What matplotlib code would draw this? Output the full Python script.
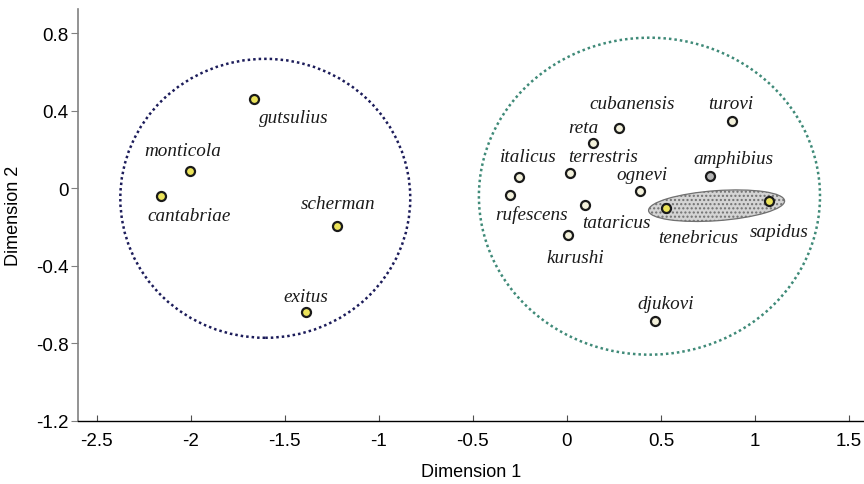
import matplotlib
matplotlib.use('Agg')
import matplotlib.pyplot as plt
from matplotlib.patches import Ellipse

# species coordinates on dimension 1 / dimension 2
names = ['gutsulius', 'monticola', 'cantabriae', 'scherman', 'exitus',
         'cubanensis', 'reta', 'turovi', 'italicus', 'terrestris', 'ognevi',
         'amphibius', 'rufescens', 'tataricus', 'tenebricus', 'sapidus',
         'kurushi', 'djukovi']
dim1 = [-1.665, -2.003, -2.158, -1.222, -1.388,
        0.275, 0.14, 0.876, -0.254, 0.018, 0.387,
        0.761, -0.303, 0.096, 0.525, 1.073,
        0.004, 0.468]
dim2 = [0.46, 0.09, -0.04, -0.195, -0.64,
        0.312, 0.231, 0.347, 0.058, 0.078, -0.016,
        0.064, -0.033, -0.086, -0.102, -0.067,
        -0.241, -0.684]
# group: y = yellow, w = pale, g = grey
group = ['y', 'y', 'y', 'y', 'y',
         'w', 'w', 'w', 'w', 'w', 'w',
         'g', 'w', 'w', 'y', 'y',
         'w', 'w']
# label centres
lab_x = [-1.455, -2.041, -2.011, -1.216, -1.389,
         0.348, 0.087, 0.871, -0.204, 0.193, 0.399,
         0.887, -0.19, 0.262, 0.70, 1.127,
         0.044, 0.527]
lab_y = [0.367, 0.197, -0.14, -0.079, -0.557,
         0.435, 0.312, 0.435, 0.166, 0.166, 0.072,
         0.154, -0.131, -0.179, -0.252, -0.221,
         -0.355, -0.593]

fills = {'y': '#ebe35a', 'w': '#f4f2dc', 'g': '#b4b4b4'}

fig = plt.figure(figsize=(8.64, 4.85), dpi=100)
ax = fig.add_axes([78 / 864, 1 - 422 / 485, (864 - 78) / 864, (422 - 10) / 485])

# group outlines
ax.add_patch(Ellipse((-1.604, -0.052), 2 * 0.771, 2 * 0.719, fill=False,
                     edgecolor='#1c1c5a', linestyle=(0, (1, 1.2)), linewidth=1.8))
ax.add_patch(Ellipse((0.439, -0.041), 2 * 0.907, 2 * 0.817, fill=False,
                     edgecolor='#3f8a78', linestyle=(0, (1, 1.2)), linewidth=1.8))
plt.rcParams['hatch.color'] = '#f4f4f4'
ax.add_patch(Ellipse((0.796, -0.09), 0.725, 0.155, angle=4, facecolor='#d4d4d4',
                     edgecolor='#707070', linewidth=0.9, hatch='....'))

for i in range(len(names)):
    ax.plot(dim1[i], dim2[i], 'o', markersize=6.5, markerfacecolor=fills[group[i]],
            markeredgecolor='#1a1a1a', markeredgewidth=1.6, zorder=5)
    ax.text(lab_x[i], lab_y[i], names[i], ha='center', va='center', style='italic',
            family='Liberation Serif', fontsize=13.8, color='#1a1a1a')

ax.set_xlim(-2.6, 1.58)
ax.set_ylim(-1.2, 0.924)
ax.set_xticks([-2.5, -2, -1.5, -1, -0.5, 0, 0.5, 1, 1.5])
ax.set_xticklabels(['-2.5', '-2', '-1.5', '-1', '-0.5', '0', '0.5', '1', '1.5'])
ax.set_yticks([-1.2, -0.8, -0.4, 0, 0.4, 0.8])
ax.set_yticklabels(['-1.2', '-0.8', '-0.4', '0', '0.4', '0.8'])
ax.spines['top'].set_visible(False)
ax.spines['right'].set_visible(False)
ax.spines['left'].set_color('#808080')
ax.spines['left'].set_linewidth(1.2)
ax.spines['bottom'].set_linewidth(1.0)
ax.tick_params(axis='x', direction='in', length=4, width=0.8, colors='#505050',
               labelcolor='black', labelsize=13.5, pad=8)
ax.tick_params(axis='y', direction='out', length=5, width=0.8, colors='#808080',
               labelcolor='black', labelsize=13.5, pad=2)
for lab in ax.get_xticklabels() + ax.get_yticklabels():
    lab.set_family('Liberation Sans')
ax.set_xlabel('Dimension 1', family='Liberation Sans', fontsize=13, labelpad=10)
ax.set_ylabel('Dimension 2', family='Liberation Sans', fontsize=13, labelpad=10)

fig.savefig('out.png', dpi=100)
